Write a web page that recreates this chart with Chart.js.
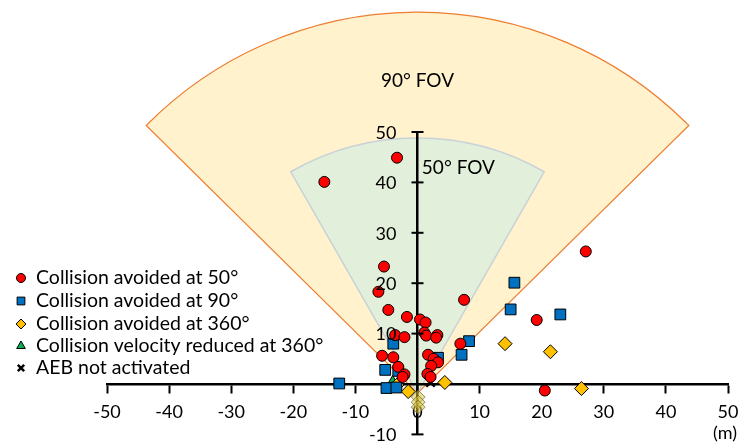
<!DOCTYPE html>
<html>
<head>
<meta charset="utf-8">
<script src="https://cdn.jsdelivr.net/npm/chart.js@4.4.0/dist/chart.umd.min.js"></script>
<style>
  html, body { margin: 0; padding: 0; background: #fff; }
  #wrap { width: 744px; height: 443px; }
</style>
</head>
<body>
<div id="wrap"><canvas id="myChart" width="744" height="443"></canvas></div>
<script>
// values, in metres
const avoided50X = [-15.0, -3.3, -5.4, -6.3, 7.5, 27.1, -4.7, -1.7, 0.4, 1.3, 19.2, 1.1, 1.4, 3.2, 3.0, -3.6, -2.1, 6.9, -5.7, -3.9, 1.7, 2.6, 3.3, 2.2, -3.1, -2.1, -2.4, 1.6, 2.1, 20.5];
const avoided50Y = [40.1, 44.9, 23.3, 18.3, 16.7, 26.3, 14.7, 13.3, 12.8, 12.2, 12.7, 10.2, 9.6, 9.7, 9.2, 9.7, 9.3, 8.0, 5.6, 5.3, 5.8, 5.0, 4.3, 3.6, 3.4, 1.9, 1.4, 2.0, 1.4, -1.3];

const avoided90X = [15.6, 15.0, 23.0, 8.3, 7.1, 3.3, -3.9, -5.2, -3.1, -12.6, -5.0, -3.4];
const avoided90Y = [20.1, 14.8, 13.8, 8.5, 5.8, 5.2, 8.0, 2.8, 2.6, 0.1, -0.8, -0.7];

const avoided360X = [14.1, 21.4, 4.4, 26.4, -1.5, -3.3, 0.1, 0.1, 0.1];
const avoided360Y = [8.0, 6.4, 0.3, -0.9, -1.5, -0.2, -2.6, -3.6, -4.6];

const reducedX = [-4.0];
const reducedY = [0.4];

const notActivatedX = [2.1];
const notActivatedY = [0.3];

const seriesLabels = ['Collision avoided at 50°', 'Collision avoided at 90°', 'Collision avoided at 360°', 'Collision velocity reduced at 360°', 'AEB not activated'];

const xTicks = [-50, -40, -30, -20, -10, 0, 10, 20, 30, 40, 50];
const yTicks = [-10, 0, 10, 20, 30, 40, 50];

// sensor fields of view (drawn behind the points)
const fovApex = [0, -1.8];
const fovSectors = [
  {label: '90° FOV', radius: 75.6, half: 45.4, fill: '#FFF2CC', stroke: '#ED7D31', lw: 1.2, textAt: [0, 60.2], align: 'center'},
  {label: '50° FOV', radius: 50.6, half: 29.8, fill: '#E2EFDA', stroke: '#C9D1D9', lw: 1.5, textAt: [0.7, 42.9], align: 'left'}
];

function pts(xs, ys) {
  return xs.map((v, i) => ({x: v, y: ys[i]}));
}

const FONT = 'Lato, "Liberation Sans", sans-serif';

const fovPlugin = {
  id: 'fov',
  beforeDraw(chart) {
    const ctx = chart.ctx;
    const x = chart.scales.x, y = chart.scales.y;
    ctx.save();
    ctx.fillStyle = '#fff';
    ctx.fillRect(0, 0, chart.width, chart.height);
    const cx = x.getPixelForValue(fovApex[0]);
    const cy = y.getPixelForValue(fovApex[1]);
    fovSectors.forEach(s => {
      const r = cy - y.getPixelForValue(fovApex[1] + s.radius);
      const h = s.half * Math.PI / 180;
      ctx.beginPath();
      ctx.moveTo(cx, cy);
      ctx.arc(cx, cy, r, -Math.PI / 2 - h, -Math.PI / 2 + h);
      ctx.closePath();
      ctx.fillStyle = s.fill;
      ctx.fill();
      ctx.lineWidth = s.lw;
      ctx.strokeStyle = s.stroke;
      ctx.stroke();
    });
    ctx.fillStyle = '#000';
    ctx.font = '19px ' + FONT;
    ctx.textBaseline = 'middle';
    fovSectors.forEach(s => {
      ctx.textAlign = s.align;
      ctx.fillText(s.label, x.getPixelForValue(s.textAt[0]), y.getPixelForValue(s.textAt[1]));
    });
    ctx.restore();
  },
  afterDraw(chart) {
    const ctx = chart.ctx;
    const x = chart.scales.x, y = chart.scales.y;
    ctx.save();
    // y ticks cross the axis, labels sit to the left
    const ax = x.getPixelForValue(0);
    ctx.strokeStyle = '#000';
    ctx.lineWidth = 2;
    ctx.fillStyle = '#000';
    ctx.font = '18px ' + FONT;
    ctx.textAlign = 'right';
    ctx.textBaseline = 'middle';
    yTicks.forEach(t => {
      if (t === 0) return;
      const py = y.getPixelForValue(t);
      ctx.beginPath();
      ctx.moveTo(ax - 6, py);
      ctx.lineTo(ax + 6, py);
      ctx.stroke();
      ctx.fillText(String(t), ax - 21, py + 1);
    });
    // unit
    ctx.textAlign = 'center';
    ctx.fillText('(m)', x.getPixelForValue(50) - 3, 433);
    // legend
    const rows = [278, 301, 324, 346, 368];
    ctx.textAlign = 'left';
    ctx.font = '19.5px ' + FONT;
    chart.data.datasets.forEach((ds, i) => {
      ctx.fillStyle = ds.legendColor;
      ctx.strokeStyle = '#000';
      ctx.lineWidth = ds.pointBorderWidth;
      Chart.helpers.drawPoint(ctx, {pointStyle: ds.pointStyle, radius: ds.legendRadius, borderWidth: ds.pointBorderWidth}, 21, rows[i]);
      ctx.fillStyle = '#000';
      ctx.fillText(ds.label, 36, rows[i]);
    });
    ctx.restore();
  }
};

function series(i, xs, ys, style, bg, radius, legendRadius, bw) {
  return {
    label: seriesLabels[i],
    data: pts(xs, ys),
    pointStyle: style,
    legendColor: bg,
    // the pile under the origin is drawn faded, as in the source figure
    pointBackgroundColor: c => (c.raw && c.raw.y < -2) ? 'rgba(215,195,60,0.55)' : bg,
    pointBorderColor: c => (c.raw && c.raw.y < -2) ? 'rgba(70,70,40,0.55)' : '#000',
    pointRadius: radius,
    pointHoverRadius: radius,
    pointBorderWidth: bw,
    legendRadius: legendRadius,
    showLine: false
  };
}

const datasets = [
  series(0, avoided50X, avoided50Y, 'circle', '#FF0000', 5.5, 4.5, 1),
  series(1, avoided90X, avoided90Y, 'rect', '#0070C0', 7.6, 5.5, 1),
  series(2, avoided360X, avoided360Y, 'rectRot', '#FFC000', 7, 5, 1),
  series(3, reducedX, reducedY, 'triangle', '#00B050', 6.5, 5, 1),
  series(4, notActivatedX, notActivatedY, 'crossRot', '#000', 6, 4.5, 2.5)
];

const tickFont = {family: FONT, size: 18};
const noPad = s => { s.paddingTop = 0; s.paddingBottom = 0; s.paddingLeft = 0; s.paddingRight = 0; };

const config = {
  type: 'scatter',
  data: {datasets: datasets},
  options: {
    responsive: false,
    animation: false,
    devicePixelRatio: 1,
    layout: {padding: {left: 107, right: 16, top: 132, bottom: 5}},
    plugins: {legend: {display: false}, tooltip: {enabled: false}},
    scales: {
      x: {
        type: 'linear', min: -50, max: 50,
        position: {y: 0},
        afterBuildTicks: s => { s.ticks = xTicks.map(v => ({value: v})); },
        afterFit: noPad,
        ticks: {font: tickFont, color: '#000', padding: 9, maxRotation: 0, autoSkip: false},
        grid: {drawOnChartArea: false, tickLength: 8, tickColor: '#000', tickWidth: 2},
        border: {color: '#000', width: 2.5}
      },
      y: {
        type: 'linear', min: -10, max: 50,
        position: {x: 0},
        afterBuildTicks: s => { s.ticks = yTicks.map(v => ({value: v})); },
        afterFit: noPad,
        ticks: {display: false},
        grid: {display: false},
        border: {color: '#000', width: 2.5}
      }
    }
  },
  plugins: [fovPlugin]
};

var myChart = new Chart(document.getElementById('myChart'), config);
</script>
</body>
</html>
